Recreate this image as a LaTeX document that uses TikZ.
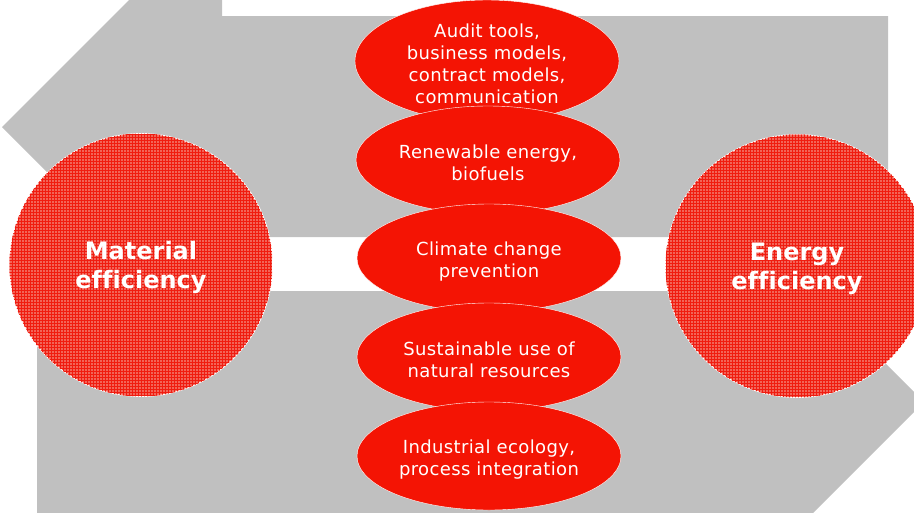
\documentclass[tikz,border=0pt]{standalone}
\usepackage{fontspec}
\setmainfont[Ligatures=NoCommon]{DejaVu Sans}
\newfontfamily\ovalfont[LetterSpace=2,Ligatures=NoCommon]{DejaVu Sans}
\usetikzlibrary{shapes.geometric,patterns}
\definecolor{arrowgray}{RGB}{192,192,192}
\definecolor{ovalred}{RGB}{244,20,4}
\definecolor{discred}{RGB}{240,28,16}
\definecolor{discpink}{RGB}{242,100,88}
% pushes the first line down a little
\newcommand{\ovalstrut}{\rule{0pt}{20pt}}
\newcommand{\discstrut}{\rule{0pt}{24pt}}

\begin{document}
\begin{tikzpicture}[x=1pt,y=-1pt]
        \useasboundingbox (0,0) rectangle (914,512);
        \clip (0,0) rectangle (914,512);
        % gray arrows
        \fill[arrowgray] (2,127) -- (222,-93) -- (222,16) -- (888,16) -- (888,237) -- (112,237) -- cycle;
        \fill[arrowgray] (37,513) -- (37,291) -- (813,291) -- (924,402) -- (813,513) -- cycle;
        \begin{scope}[every node/.style={circle,draw=white,thick,fill=discpink,postaction={pattern=grid,pattern color=discred},minimum size=263pt,inner sep=0pt,text=white,align=center,font=\fontsize{24}{29}\selectfont\bfseries}]
            \node (mat) at (141,265) {\discstrut Material\\efficiency};
            \node (ene) at (797,266) {\discstrut Energy\\efficiency};
        \end{scope}
        \begin{scope}[every node/.style={ellipse,draw=white,thin,fill=ovalred,minimum width=264pt,minimum height=108pt,inner sep=0pt,text=white,align=center,font=\ovalfont\fontsize{18}{22}\selectfont}]
            \node (audit) at (487,61) {\ovalstrut Audit tools,\\business models,\\contract models,\\communication};
            \node (renew) at (488,160) {\ovalstrut Renewable energy,\\biofuels};
            \node (climate) at (489,258) {\ovalstrut Climate change\\prevention};
            \node (sustain) at (489,357) {\ovalstrut Sustainable use of\\natural resources};
            \node (indus) at (489,456) {\ovalstrut Industrial ecology,\\process integration};
        \end{scope}
    \end{tikzpicture}
\end{document}
